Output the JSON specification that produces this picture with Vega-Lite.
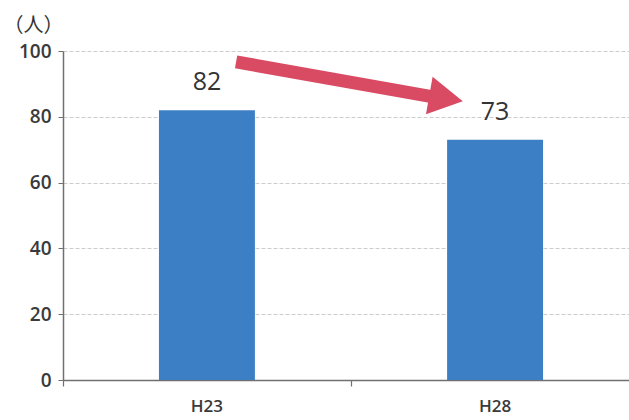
{
  "$schema": "https://vega.github.io/schema/vega-lite/v6.json",
  "autosize": "none",
  "width": 576,
  "height": 329,
  "padding": {"left": 63, "top": 51, "right": 0, "bottom": 40},
  "background": "#ffffff",
  "config": {"view": {"stroke": null}, "font": "Open Sans"},
  "datasets": {
    "bars": [
      {"year": "H23", "people": 82},
      {"year": "H28", "people": 73}
    ],
    "arrow": [
      {"x0": 0.601, "y0": 96.7, "x1": 1.29, "y1": 86.0, "hx": 1.33, "hy": 85.6}
    ]
  },
  "layer": [
    {
      "data": {"name": "bars"},
      "mark": {"type": "bar", "color": "#3d7fc4"},
      "encoding": {
        "x": {
          "field": "year", "type": "nominal",
          "scale": {"paddingInner": 0.667, "paddingOuter": 0.333},
          "axis": {
            "title": null, "labelAngle": 0, "bandPosition": -1,
            "domainColor": "#707070", "domainWidth": 1.5,
            "tickColor": "#707070", "tickSize": 6, "tickWidth": 1.2,
            "labelFontSize": 17, "labelFontWeight": 600, "labelColor": "#3a3a3a", "labelPadding": 12,
            "grid": false
          }
        },
        "y": {
          "field": "people", "type": "quantitative",
          "scale": {"domain": [0, 100]},
          "axis": {
            "values": [0, 20, 40, 60, 80, 100],
            "title": "（人）", "titleAngle": 0, "titleX": -30, "titleY": -26,
            "titleAlign": "center", "titleBaseline": "middle",
            "titleFontSize": 20, "titleFontWeight": "normal", "titleColor": "#333333",
            "titleFont": "Noto Sans CJK JP",
            "labelFontSize": 19, "labelFontWeight": 600, "labelColor": "#3a3a3a", "labelPadding": 7,
            "domainColor": "#707070", "domainWidth": 1.5,
            "tickColor": "#707070", "tickSize": 5,
            "gridColor": "#cccccc", "gridDash": [4, 2], "gridWidth": 1
          }
        }
      }
    },
    {
      "data": {"name": "bars"},
      "mark": {"type": "text", "dy": -15, "fontSize": 25, "fontWeight": 500, "color": "#333333", "baseline": "bottom"},
      "encoding": {
        "x": {"field": "year", "type": "nominal", "axis": null},
        "y": {"field": "people", "type": "quantitative"},
        "text": {"field": "people", "type": "quantitative"}
      }
    },
    {
      "data": {"name": "arrow"},
      "layer": [
        {
          "mark": {"type": "rule", "color": "#d94a63", "strokeWidth": 13},
          "encoding": {
            "x": {"field": "x0", "type": "quantitative", "scale": {"domain": [0, 2]}, "axis": null},
            "y": {"field": "y0", "type": "quantitative"},
            "x2": {"field": "x1"},
            "y2": {"field": "y1"}
          }
        },
        {
          "mark": {"type": "point", "filled": true, "color": "#d94a63", "opacity": 1, "angle": 10, "size": 1600,
                   "shape": "M -0.85 -0.95 L 0.85 0 L -0.85 0.95 Z"},
          "encoding": {
            "x": {"field": "hx", "type": "quantitative", "scale": {"domain": [0, 2]}, "axis": null},
            "y": {"field": "hy", "type": "quantitative"}
          }
        }
      ]
    }
  ],
  "resolve": {"scale": {"x": "independent"}}
}
